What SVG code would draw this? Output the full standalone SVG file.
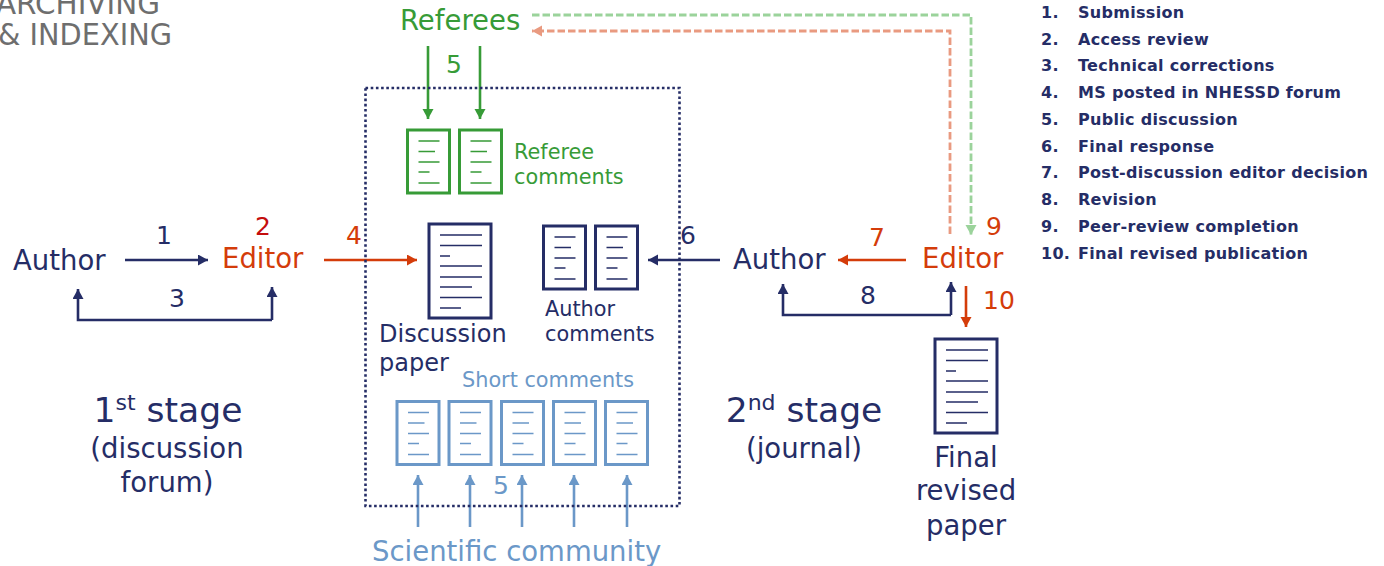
<svg xmlns="http://www.w3.org/2000/svg" width="1384" height="566" viewBox="0 0 1384 566">
<style>
text{font-family:"DejaVu Sans",Verdana,sans-serif}
.n{fill:#252d66}.r{fill:#d43c0a}.g{fill:#379b37}.b{fill:#6b98c8}.gy{fill:#6e6e6e}
.f28{font-size:27.500px}.f24{font-size:24px}.f25{font-size:25px}.f21{font-size:20.800px}
.m{text-anchor:middle}
.leg{font-size:16px;font-weight:bold;fill:#252d66;letter-spacing:.3px}
.doc{fill:#fff;stroke-width:3}.ln{stroke-width:1.7;fill:none}
.w{fill:none;stroke-width:2.600}
.d{fill:none;stroke-width:2.800;stroke-dasharray:7.500 3}
</style>
<defs>
<marker id="an" markerUnits="userSpaceOnUse" markerWidth="12" markerHeight="12" refX="10" refY="5.500" orient="auto"><path d="M0 0L10 5.500L0 11z" fill="#252d66"/></marker>
<marker id="ar" markerUnits="userSpaceOnUse" markerWidth="12" markerHeight="12" refX="10" refY="5.500" orient="auto"><path d="M0 0L10 5.500L0 11z" fill="#d43c0a"/></marker>
<marker id="ag" markerUnits="userSpaceOnUse" markerWidth="12" markerHeight="12" refX="10" refY="5.500" orient="auto"><path d="M0 0L10 5.500L0 11z" fill="#379b37"/></marker>
<marker id="ab" markerUnits="userSpaceOnUse" markerWidth="12" markerHeight="12" refX="10" refY="5.500" orient="auto"><path d="M0 0L10 5.500L0 11z" fill="#6b98c8"/></marker>
<marker id="alg" markerUnits="userSpaceOnUse" markerWidth="12" markerHeight="12" refX="10" refY="5.500" orient="auto"><path d="M0 0L10 5.500L0 11z" fill="#9bd39b"/></marker>
<marker id="alr" markerUnits="userSpaceOnUse" markerWidth="12" markerHeight="12" refX="10" refY="5.500" orient="auto"><path d="M0 0L10 5.500L0 11z" fill="#e99a80"/></marker>
<g id="small"><rect class="doc" x="0" y="0" width="42" height="63"/><path class="ln" d="M11 11H32M11 21.500H27.500M11 32H32M11 42H22M11 53H32"/></g>
<g id="large"><rect class="doc" x="0" y="0" width="62" height="94"/><path class="ln" d="M11 11H53M11 21.500H53M11 32H21M11 42H53M11 53H53M11 63H43M11 73.500H53M11 84H32"/></g>
</defs>
<g id="archiving-label">
<text class="gy" x="-4" y="14" font-size="30" textLength="164" lengthAdjust="spacingAndGlyphs">ARCHIVING</text>
<text class="gy" x="-2" y="45" font-size="30" textLength="174" lengthAdjust="spacingAndGlyphs">&amp; INDEXING</text>
</g>
<g id="connectors">
<path class="w" stroke="#252d66" marker-end="url(#an)" d="M125 260H208"/>
<path class="w" stroke="#252d66" marker-end="url(#an)" d="M272 320V287"/>
<path class="w" stroke="#252d66" marker-end="url(#an)" d="M272 320H78V289"/>
<path class="w" stroke="#d43c0a" marker-end="url(#ar)" d="M324 260H417"/>
<path class="w" stroke="#379b37" marker-end="url(#ag)" d="M428 46V119"/>
<path class="w" stroke="#379b37" marker-end="url(#ag)" d="M480 46V119"/>
<path class="w" stroke="#252d66" marker-end="url(#an)" d="M720 260H648"/>
<path class="w" stroke="#d43c0a" marker-end="url(#ar)" d="M906 260H838"/>
<path class="w" stroke="#252d66" marker-end="url(#an)" d="M951 315H783V284"/>
<path class="w" stroke="#252d66" marker-end="url(#an)" d="M951 315V282"/>
<path class="w" stroke="#d43c0a" marker-end="url(#ar)" d="M966 286V327"/>
<path class="d" stroke="#9bd39b" marker-end="url(#alg)" d="M532 15H971V235"/>
<path class="d" stroke="#e99a80" marker-end="url(#alr)" d="M950 234V31H532"/>
<path class="w" stroke="#6b98c8" marker-end="url(#ab)" d="M418 527V475"/>
<path class="w" stroke="#6b98c8" marker-end="url(#ab)" d="M470 527V475"/>
<path class="w" stroke="#6b98c8" marker-end="url(#ab)" d="M522 527V475"/>
<path class="w" stroke="#6b98c8" marker-end="url(#ab)" d="M574 527V475"/>
<path class="w" stroke="#6b98c8" marker-end="url(#ab)" d="M627 527V475"/>
</g>
<g id="forum-box"><rect x="365.500" y="88" width="314" height="418" fill="none" stroke="#252d66" stroke-width="2.600" stroke-dasharray="2.600 2.600"/></g>
<g id="author-1"><text class="n f28" x="13" y="270">Author</text></g>
<g id="editor-1"><text class="r f28" x="222" y="268">Editor</text></g>
<g id="referees"><text class="g f28" x="400" y="30">Referees</text></g>
<g id="author-2"><text class="n f28" x="733" y="269">Author</text></g>
<g id="editor-2"><text class="r f28" x="922" y="268">Editor</text></g>
<g id="numbers">
<text class="n f25 m" x="164" y="244">1</text>
<text class="f25 m" fill="#c40d0d" x="263" y="235">2</text>
<text class="n f25 m" x="177" y="307">3</text>
<text class="r f25 m" x="354" y="244">4</text>
<text class="g f25 m" x="454" y="73">5</text>
<text class="n f25 m" x="688" y="244">6</text>
<text class="r f25 m" x="877" y="246">7</text>
<text class="n f25 m" x="868" y="304">8</text>
<text class="r f25 m" x="994" y="235">9</text>
<text class="r f25 m" x="999" y="309">10</text>
<text class="b f25 m" x="501" y="494">5</text>
</g>
<g id="referee-comments">
<use href="#small" stroke="#379b37" x="407.500" y="130"/>
<use href="#small" stroke="#379b37" x="459.500" y="130"/>
<text class="g f21" x="514" y="159">Referee</text>
<text class="g f21" x="514" y="184">comments</text>
</g>
<g id="discussion-paper">
<use href="#large" stroke="#252d66" x="429" y="224"/>
<text class="n f24" x="379" y="342">Discussion</text>
<text class="n f24" x="379" y="371">paper</text>
</g>
<g id="author-comments">
<use href="#small" stroke="#252d66" x="543.500" y="226"/>
<use href="#small" stroke="#252d66" x="595.500" y="226"/>
<text class="n f21" x="545" y="316">Author</text>
<text class="n f21" x="545" y="341">comments</text>
</g>
<g id="short-comments">
<text class="b f21" x="462" y="387">Short comments</text>
<use href="#small" stroke="#6b98c8" x="397" y="401.500"/>
<use href="#small" stroke="#6b98c8" x="449" y="401.500"/>
<use href="#small" stroke="#6b98c8" x="501.500" y="401.500"/>
<use href="#small" stroke="#6b98c8" x="553.500" y="401.500"/>
<use href="#small" stroke="#6b98c8" x="605.500" y="401.500"/>
</g>
<g id="scientific-community"><text class="b f28" x="372" y="561">Scientific community</text></g>
<g id="stage-1">
<text class="n m" font-size="34.500" x="168" y="422">1<tspan font-size="22" dy="-12">st</tspan><tspan dy="12"> stage</tspan></text>
<text class="n f28 m" x="167" y="458">(discussion</text>
<text class="n f28 m" x="167" y="492">forum)</text>
</g>
<g id="stage-2">
<text class="n m" font-size="34.500" x="804" y="422">2<tspan font-size="22" dy="-12">nd</tspan><tspan dy="12"> stage</tspan></text>
<text class="n f28 m" x="804" y="458">(journal)</text>
</g>
<g id="final-paper">
<use href="#large" stroke="#252d66" x="935" y="339"/>
<text class="n f28 m" x="966" y="467">Final</text>
<text class="n f28 m" x="966" y="500">revised</text>
<text class="n f28 m" x="966" y="535">paper</text>
</g>
<g id="legend">
<text class="leg" x="1041" y="18">1.</text><text class="leg" x="1078" y="18">Submission</text>
<text class="leg" x="1041" y="45">2.</text><text class="leg" x="1078" y="45">Access review</text>
<text class="leg" x="1041" y="71">3.</text><text class="leg" x="1078" y="71">Technical corrections</text>
<text class="leg" x="1041" y="98">4.</text><text class="leg" x="1078" y="98">MS posted in NHESSD forum</text>
<text class="leg" x="1041" y="125">5.</text><text class="leg" x="1078" y="125">Public discussion</text>
<text class="leg" x="1041" y="152">6.</text><text class="leg" x="1078" y="152">Final response</text>
<text class="leg" x="1041" y="178">7.</text><text class="leg" x="1078" y="178">Post-discussion editor decision</text>
<text class="leg" x="1041" y="205">8.</text><text class="leg" x="1078" y="205">Revision</text>
<text class="leg" x="1041" y="232">9.</text><text class="leg" x="1078" y="232">Peer-review completion</text>
<text class="leg" x="1041" y="259">10.</text><text class="leg" x="1078" y="259">Final revised publication</text>
</g>
</svg>
